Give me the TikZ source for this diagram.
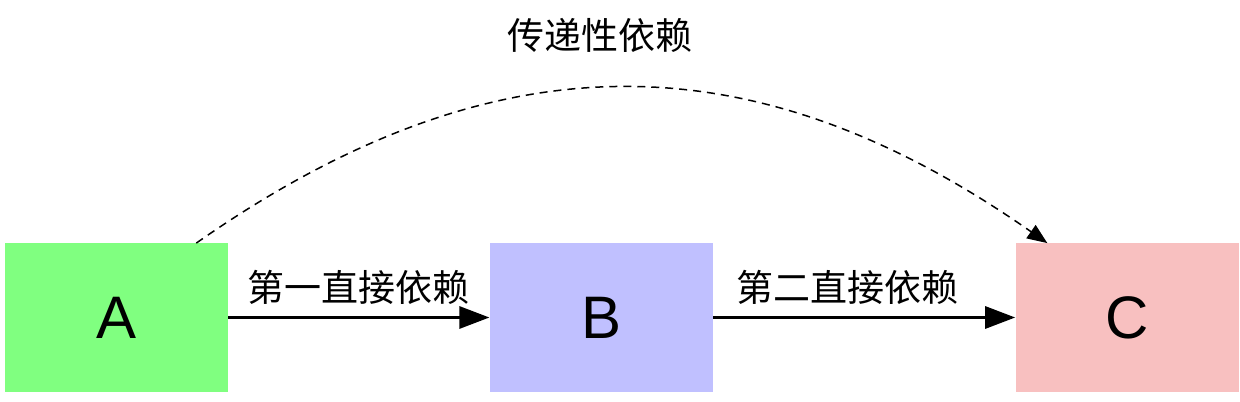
\documentclass[tikz,border=0pt]{standalone}
\usepackage{fontspec}
\setmainfont{Liberation Sans}
\newfontfamily\cjk{Noto Sans CJK SC}
\usepackage{tikz}
\usetikzlibrary{arrows.meta,positioning}

\definecolor{boxgreen}{HTML}{80FF80}
\definecolor{boxblue}{HTML}{C0C0FF}
\definecolor{boxred}{HTML}{F8C0C0}

\begin{document}
\begin{tikzpicture}[x=0.5pt,y=0.5pt,>={Triangle[length=15pt,width=11pt]},
                    box/.style={minimum width=111.5pt,minimum height=74pt,inner sep=0pt,
                                font=\fontsize{30pt}{30pt}\selectfont},
                    dep/.style={font=\cjk\fontsize{18.5pt}{20pt}\selectfont}]
  \useasboundingbox (0,0) rectangle (1240,401);

  \node[box,fill=boxgreen] (a) at (116.5,83.5) {A};
  \node[box,fill=boxblue,right=130.5pt of a] (b) {B};
  \node[box,fill=boxred,right=151pt of b] (c) {C};

  \path[->,line width=1.5pt]
    (a) edge node[dep,above=2.5pt] {第一直接依赖} (b)
    (b) edge node[dep,above=2.5pt,xshift=-8.5pt] {第二直接依赖} (c);

  \draw[-{Triangle[length=10pt,width=8pt]},line width=0.75pt,dash pattern=on 4pt off 3pt]
    (a.43) .. controls +(296,207) and +(-296,207) .. (c.137)
    node[dep,pos=0.5,above=14pt,xshift=-11pt] (t) {传递性依赖};
\end{tikzpicture}
\end{document}
